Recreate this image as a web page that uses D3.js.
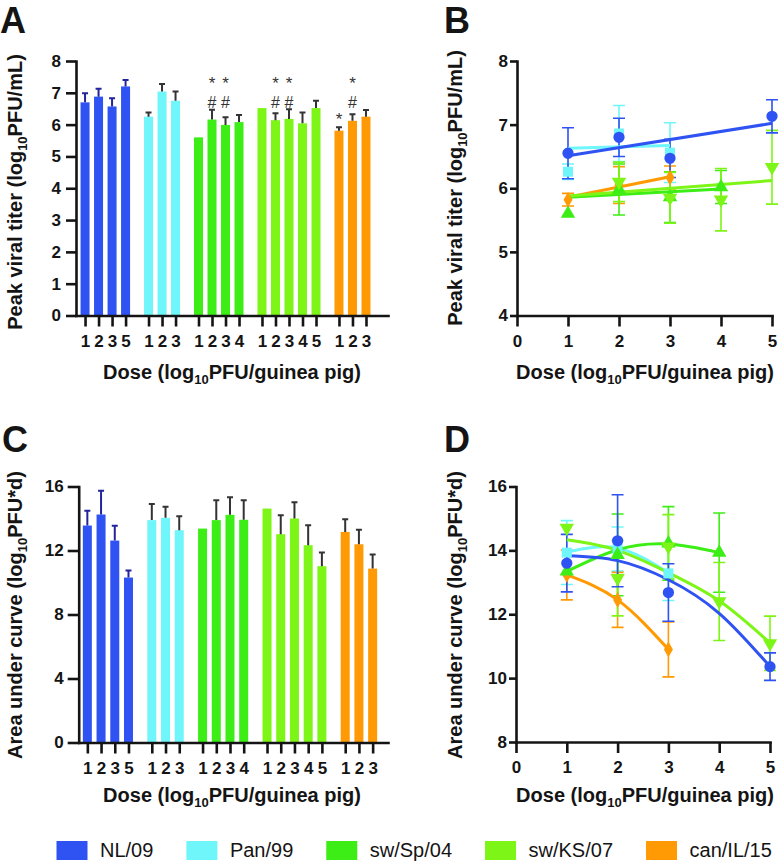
<!DOCTYPE html>
<html><head><meta charset="utf-8">
<script src="https://cdn.jsdelivr.net/npm/d3@7"></script>
<style>body{margin:0;background:#fff}svg{display:block}</style>
</head><body><svg id="c" width="780" height="864"></svg>
<script>
// ---------------- DATA ----------------
const strains = ["NL/09", "Pan/99", "sw/Sp/04", "sw/KS/07", "can/IL/15"];
const colors = ["#2f52f2", "#6ff6fa", "#3ded16", "#7df516", "#ff9a05"];
const errColors = ["#23239c", "#333333", "#333333", "#333333", "#333333"];
const doses = [[1, 2, 3, 5], [1, 2, 3], [1, 2, 3, 4], [1, 2, 3, 4, 5], [1, 2, 3]];

// Panel A: peak viral titer (bars)
const peakMean = [[6.70, 6.88, 6.57, 7.20], [6.25, 7.04, 6.75], [5.60, 6.16, 5.99, 6.08], [6.52, 6.14, 6.18, 6.04, 6.52], [5.81, 6.12, 6.25]];
const peakErr = [[0.29, 0.25, 0.26, 0.20], [0.13, 0.24, 0.29], [0, 0.31, 0.24, 0.22], [0, 0.22, 0.30, 0.34, 0.23], [0.11, 0.21, 0.21]];
const sigMarks = [
  { strain: 2, dose: 2, labels: ["*", "#"] },
  { strain: 2, dose: 3, labels: ["*", "#"] },
  { strain: 3, dose: 2, labels: ["*", "#"] },
  { strain: 3, dose: 3, labels: ["*", "#"] },
  { strain: 4, dose: 1, labels: ["*"] },
  { strain: 4, dose: 2, labels: ["*", "#"] }
];
const yTicksA = [0, 1, 2, 3, 4, 5, 6, 7, 8];

// Panel B: peak titer vs dose (points + linear fits)
const bDoses = [[1, 2, 3, 5], [1, 2, 3], [1, 2, 3, 4], [2, 3, 4, 5], [1, 2, 3]];
const bMean = [[6.55, 6.80, 6.47, 7.13], [6.26, 6.86, 6.56], [5.60, 5.98, 5.86, 6.02], [6.10, 5.85, 5.82, 6.33], [5.82, 6.05, 6.17]];
const bErr = [[0.40, 0.30, 0.30, 0.26], [0.12, 0.44, 0.47], [0, 0.40, 0.40, 0.26], [0.31, 0.40, 0.49, 0.58], [0.10, 0.29, 0.18]];
const bFitX = [[1, 5], [1, 3], [1, 4], [1, 5], [1, 3]];
const bFitY = [[6.51, 7.02], [6.63, 6.67], [5.86, 5.99], [5.88, 6.12], [5.86, 6.18]];
const yTicksB = [4, 5, 6, 7, 8];
const xTicksBD = [0, 1, 2, 3, 4, 5];

// Panel C: area under curve (bars)
const aucMean = [[13.56, 14.25, 12.62, 10.31], [13.90, 14.04, 13.27], [13.37, 13.90, 14.23, 13.92], [14.62, 13.02, 14.00, 12.33, 11.02], [13.16, 12.39, 10.87]];
const aucErr = [[0.92, 1.48, 0.92, 0.44], [1.01, 0.69, 0.87], [0, 1.24, 1.10, 1.22], [0, 1.18, 1.02, 1.25, 0.85], [0.79, 0.90, 0.88]];
const yTicksC = [0, 4, 8, 12, 16];

// Panel D: AUC vs dose (points + curve fits)
const dDoses = [[1, 2, 3, 5], [1, 2, 3], [1, 2, 3, 4], [1, 2, 3, 4, 5], [1, 2, 3]];
const dMean = [[13.60, 14.30, 12.68, 10.36], [13.93, 14.04, 13.28], [13.34, 13.86, 14.22, 13.93], [14.70, 13.13, 14.12, 12.40, 11.09], [13.23, 12.45, 10.90]];
const dErr = [[0.90, 1.44, 0.90, 0.43], [1.00, 0.69, 0.85], [0, 1.28, 1.15, 1.24], [0, 1.18, 1.00, 1.22, 0.85], [0.78, 0.86, 0.86]];
const dFitX = [[1, 2, 3, 4, 5], [1, 2, 3], [1, 2, 3, 4], [1, 2, 3, 4, 5], [1, 2, 3]];
const dFitY = [[13.83, 13.68, 13.08, 12.03, 10.36], [13.95, 14.07, 13.30], [13.34, 14.02, 14.20, 13.93], [14.33, 14.00, 13.30, 12.42, 11.10], [13.23, 12.45, 10.90]];
const yTicksD = [8, 10, 12, 14, 16];

// ---------------- DRAW ----------------
const FONT = '"Liberation Sans", Arial, Helvetica, sans-serif';
const svg = d3.select("#c");
const INK = "#141414";
const symbols = [d3.symbolCircle, d3.symbolSquare, d3.symbolTriangle, d3.symbolTriangle, d3.symbolDiamond];
const symSize = [100, 100, 90, 90, 70];
const symRot = [0, 0, 0, 180, 0];
const drawOrder = [1, 4, 2, 3, 0];
const fmt = d3.format("d");

function styleAxis(g, sw) {
  g.selectAll(".domain").attr("stroke", INK).attr("stroke-width", sw).attr("stroke-linecap", "square");
  g.selectAll(".tick line").attr("stroke", INK).attr("stroke-width", sw);
  g.selectAll(".tick text").attr("font-family", FONT).attr("font-size", 17)
    .attr("font-weight", "bold").attr("fill", INK);
}

function titleText(x, y, rot, before, after) {
  const t = svg.append("text")
    .attr("transform", `translate(${x},${y}) rotate(${rot})`)
    .attr("text-anchor", "middle").attr("font-family", FONT)
    .attr("font-weight", "bold").attr("font-size", 20).attr("fill", INK);
  t.append("tspan").text(before);
  t.append("tspan").attr("font-size", 13).attr("dy", 5).text("10");
  t.append("tspan").attr("dy", -5).text(after);
}

function panelLetter(x, y, s) {
  svg.append("text").attr("x", x).attr("y", y).attr("font-family", FONT)
    .attr("font-weight", "bold").attr("font-size", 36).attr("fill", INK).text(s);
}

// slot layout for grouped bars
const slots = [];
{
  let s = 0;
  doses.forEach((ds, gi) => {
    ds.forEach((d, di) => { slots.push({ gi, di, dose: d, slot: s }); s += 1; });
    s += 0.7;
  });
}

function barPanel(opts) {
  const { xScale, yScale, means, errs, yTicks, ySize, yPad } = opts;
  const g = svg.append("g");
  g.selectAll("rect.bar").data(slots).join("rect")
    .attr("x", d => xScale(d.slot) - 4.5)
    .attr("width", 9)
    .attr("y", d => yScale(means[d.gi][d.di]))
    .attr("height", d => yScale(yScale.domain()[0]) - yScale(means[d.gi][d.di]))
    .attr("fill", d => colors[d.gi]);
  const eb = slots.filter(d => errs[d.gi][d.di] > 0);
  g.selectAll("path.err").data(eb).join("path")
    .attr("d", d => {
      const x = xScale(d.slot);
      const y0 = yScale(means[d.gi][d.di]);
      const y1 = yScale(means[d.gi][d.di] + errs[d.gi][d.di]);
      return `M${x},${y0}V${y1}M${x - 3},${y1}H${x + 3}`;
    })
    .attr("stroke", d => errColors[d.gi]).attr("stroke-width", 2).attr("fill", "none");
  const ya = g.append("g").attr("transform", `translate(${xScale.range()[0]},0)`)
    .call(d3.axisLeft(yScale).tickValues(yTicks).tickFormat(fmt).tickSize(ySize).tickPadding(yPad).tickSizeOuter(0));
  styleAxis(ya, 2.6);
  const xa = g.append("g").attr("transform", `translate(0,${yScale.range()[0]})`)
    .call(d3.axisBottom(xScale).tickValues(slots.map(d => d.slot))
      .tickFormat((v, i) => slots[i].dose).tickSize(11).tickPadding(8).tickSizeOuter(0));
  styleAxis(xa, 2.6);
  return g;
}

function linePanel(opts) {
  const { xScale, yScale, pdoses, pmean, perr, fitX, fitY, curve, yTicks, ySize, yPad } = opts;
  const g = svg.append("g");
  const ya = g.append("g").attr("transform", `translate(${xScale.range()[0]},0)`)
    .call(d3.axisLeft(yScale).tickValues(yTicks).tickFormat(fmt).tickSize(ySize).tickPadding(yPad).tickSizeOuter(0));
  styleAxis(ya, 2.6);
  const xa = g.append("g").attr("transform", `translate(0,${yScale.range()[0]})`)
    .call(d3.axisBottom(xScale).tickValues(xTicksBD).tickFormat(fmt).tickSize(11).tickPadding(8).tickSizeOuter(0));
  styleAxis(xa, 2.6);
  const line = d3.line().x(d => xScale(d[0])).y(d => yScale(d[1])).curve(curve);
  drawOrder.forEach(si => {
    pdoses[si].forEach((x, k) => {
      const e = perr[si][k];
      if (e <= 0) return;
      const px = xScale(x), y1 = yScale(pmean[si][k] + e), y2 = yScale(pmean[si][k] - e);
      g.append("path").attr("d", `M${px},${y1}V${y2}M${px - 6},${y1}H${px + 6}M${px - 6},${y2}H${px + 6}`)
        .attr("stroke", colors[si]).attr("stroke-width", 1.6).attr("fill", "none");
    });
  });
  drawOrder.forEach(si => {
    g.append("path").attr("d", line(fitX[si].map((x, k) => [x, fitY[si][k]])))
      .attr("stroke", colors[si]).attr("stroke-width", 3).attr("fill", "none");
  });
  drawOrder.forEach(si => {
    pdoses[si].forEach((x, k) => {
      g.append("path")
        .attr("d", d3.symbol(symbols[si], symSize[si])())
        .attr("transform", `translate(${xScale(x)},${yScale(pmean[si][k])}) rotate(${symRot[si]})`)
        .attr("fill", colors[si]);
    });
  });
  return g;
}

// Panel A
const yA = d3.scaleLinear([0, 8], [315.5, 61]);
const xA = d3.scaleLinear([-0.67, 22.43], [76, 388]);
barPanel({ xScale: xA, yScale: yA, means: peakMean, errs: peakErr, yTicks: yTicksA, ySize: 10, yPad: 5 });
sigMarks.forEach(m => {
  const s = slots.find(d => d.gi === m.strain && d.dose === m.dose);
  const x = xA(s.slot);
  const single = m.labels.length === 1;
  m.labels.forEach((lab, k) => {
    svg.append("text").attr("text-anchor", "middle").attr("x", x)
      .attr("y", single ? yA(5.99) : (k === 0 ? yA(7.11) : yA(6.52)))
      .attr("font-family", FONT).attr("fill", "#333")
      .attr("font-size", lab === "*" ? 17 : 16).text(lab);
  });
});
panelLetter(0, 33, "A");
titleText(22, 192, -90, "Peak viral titer (log", "PFU/mL)");
titleText(232, 379, 0, "Dose (log", "PFU/guinea pig)");

// Panel B
const yB = d3.scaleLinear([4, 8], [315.5, 61]);
const xB = d3.scaleLinear([0, 5], [517, 772]);
linePanel({ xScale: xB, yScale: yB, pdoses: bDoses, pmean: bMean, perr: bErr, fitX: bFitX, fitY: bFitY,
  curve: d3.curveLinear, yTicks: yTicksB, ySize: 7, yPad: 2 });
panelLetter(444, 33, "B");
titleText(462, 188, -90, "Peak viral titer (log", "PFU/mL)");
titleText(645, 379, 0, "Dose (log", "PFU/guinea pig)");

// Panel C
const yC = d3.scaleLinear([0, 16], [742.5, 486.5]);
const xC = d3.scaleLinear([-0.63, 21.92], [78.7, 388]);
barPanel({ xScale: xC, yScale: yC, means: aucMean, errs: aucErr, yTicks: yTicksC, ySize: 11, yPad: 4 });
panelLetter(2, 452, "C");
titleText(22, 615, -90, "Area under curve (log", "PFU*d)");
titleText(232, 802, 0, "Dose (log", "PFU/guinea pig)");

// Panel D
const yD = d3.scaleLinear([8, 16], [742, 486.5]);
const xD = d3.scaleLinear([0, 5], [516, 770]);
linePanel({ xScale: xD, yScale: yD, pdoses: dDoses, pmean: dMean, perr: dErr, fitX: dFitX, fitY: dFitY,
  curve: d3.curveNatural, yTicks: yTicksD, ySize: 7, yPad: 2 });
panelLetter(444, 452, "D");
titleText(462, 615, -90, "Area under curve (log", "PFU*d)");
titleText(645, 802, 0, "Dose (log", "PFU/guinea pig)");

// Legend
{
  let x = 56.5;
  const lg = svg.append("g");
  strains.forEach((s, i) => {
    lg.append("rect").attr("x", x).attr("y", 841).attr("width", 31).attr("height", 19).attr("fill", colors[i]);
    const t = lg.append("text").attr("x", x + 43.5).attr("y", 857).attr("font-family", FONT)
      .attr("font-size", 20).attr("fill", INK).text(s);
    x += 43.5 + t.node().getComputedTextLength() + 33;
  });
}
</script>
</body></html>
